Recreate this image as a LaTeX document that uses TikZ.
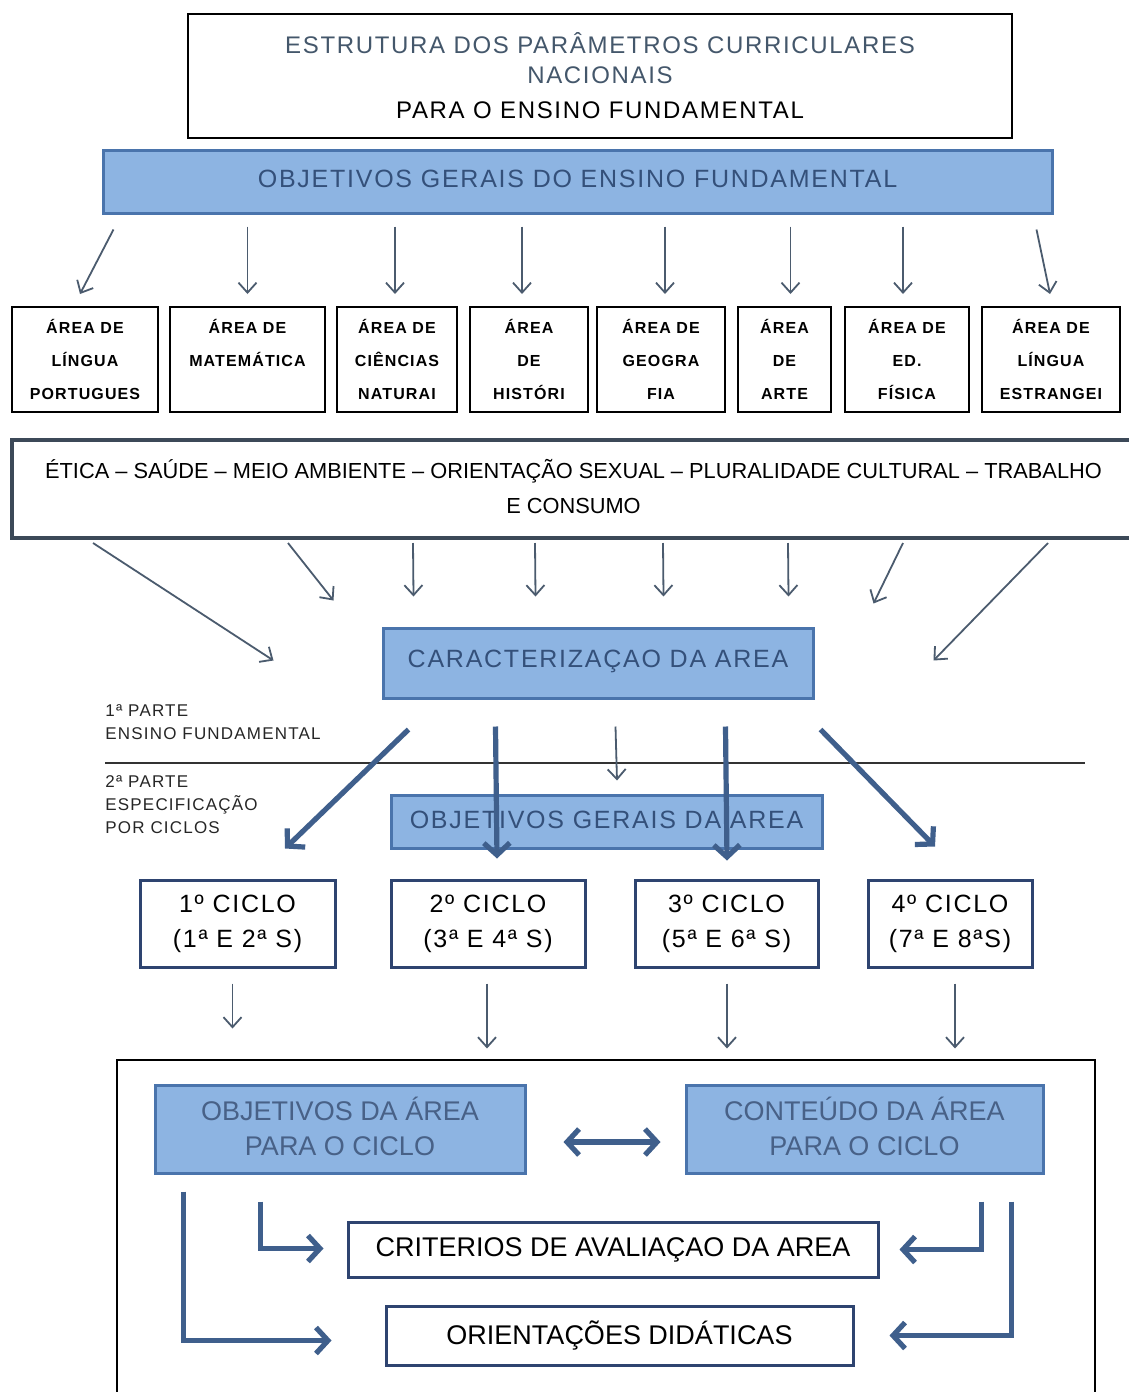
\documentclass[tikz,border=0pt]{standalone}
\usepackage{fontspec}
\setmainfont{Liberation Sans}
\newfontfamily\largo[LetterSpace=7]{Liberation Sans}
\usepackage{tikz}
\usetikzlibrary{arrows.meta,calc}

\definecolor{BoxBlue}{HTML}{8DB4E2}
\definecolor{EdgeBlue}{HTML}{4A74AC}
\definecolor{InkBlue}{HTML}{34507A}
\definecolor{TitleInk}{HTML}{44576B}
\definecolor{ArrowInk}{HTML}{4B5B6E}
\definecolor{BoldInk}{HTML}{3F5F8C}
\definecolor{Navy}{HTML}{2E4470}

\begin{document}
\begin{tikzpicture}[x=0.5pt, y=-0.5pt,
	bluebox/.style={draw=EdgeBlue, fill=BoxBlue, line width=1.5pt, text=InkBlue, align=center, inner sep=0pt},
	areabox/.style={draw=black, line width=1pt, fill=white, inner sep=0pt, minimum height=52.5pt},
	areatext/.style={anchor=north, align=center, inner sep=0pt, font={\largo\bfseries\fontsize{8}{16.5}\selectfont}},
	ciclobox/.style={draw=Navy, line width=1.5pt, fill=white, align=center, inner sep=0pt, minimum height=43.5pt, font={\largo\fontsize{12.5}{17.5}\selectfont}},
	whitebox/.style={draw=Navy, line width=1.5pt, fill=white, inner sep=0pt, font=\fontsize{13.5}{17.5}\selectfont},
	seta/.style={draw=ArrowInk, line width=0.9pt, -{Straight Barb[length=5pt,width=9pt]}},
	setaforte/.style={draw=BoldInk, line width=2.6pt, -{Straight Barb[length=6pt,width=13pt]}},
	]
	\fill[white] (0,0) rectangle (1129,1392);
	\useasboundingbox (0,0) rectangle (1129,1392);

	% top of the structure
	\node[draw=black, line width=1pt, minimum width=412pt, minimum height=62pt, align=center, inner sep=0pt,
		font={\largo\fontsize{12}{15}\selectfont}] (titulo) at (600,76)
		{{\color{TitleInk}ESTRUTURA DOS PARÂMETROS CURRICULARES}\\{\color{TitleInk}NACIONAIS}\\[2.5pt]{\color{black}PARA O ENSINO FUNDAMENTAL}};
	\node[bluebox, minimum width=474.5pt, minimum height=31.5pt, font={\largo\fontsize{12.5}{15}\selectfont}] (objgerais) at (577.5,181.5)
		{\raisebox{3pt}{OBJETIVOS GERAIS DO ENSINO FUNDAMENTAL}};

	% areas
	\foreach \i/\cx/\w/\txt in {1/85/146/{ÁREA DE\\LÍNGUA\\PORTUGUES}, 2/247.5/155/{ÁREA DE\\MATEMÁTICA}, 3/397/120/{ÁREA DE\\CIÊNCIAS\\NATURAI},
		4/529/118/{ÁREA\\DE\\HISTÓRI}, 5/661/128/{ÁREA DE\\GEOGRA\\FIA}, 6/784.5/93/{ÁREA\\DE\\ARTE},
		7/907/124/{ÁREA DE\\ED.\\FÍSICA}, 8/1051/138/{ÁREA DE\\LÍNGUA\\ESTRANGEI}} {
		\node[areabox, minimum width=\w*0.5pt] (area\i) at (\cx,359.5) {};
		\node[areatext] (areatxt\i) at ($(area\i.north)+(0,13)$) {\txt};
	}
	\draw[seta] ($(objgerais.south west)+(12,15)$) -- ($(area1.north)+(-5,-12)$);
	\foreach \i/\dx in {2/0,3/-2,4/-7,5/4,6/6,7/-4}
		\draw[seta] ($(objgerais.south -| area\i.north)+(\dx,12)$) -- ($(area\i.north)+(\dx,-12)$);
	\draw[seta] ($(objgerais.south east)+(-17,15)$) -- ($(area8.north)+(-1,-12)$);

	% cross themes
	\node[draw=ArrowInk!80!black, line width=2pt, fill=white, minimum width=561.5pt, minimum height=49pt, align=center, inner sep=0pt,
		font=\fontsize{10.9}{17.5}\selectfont] (etica) at (573.5,489)
		{\raisebox{3pt}{ÉTICA – SAÚDE – MEIO AMBIENTE – ORIENTAÇÃO SEXUAL – PLURALIDADE CULTURAL – TRABALHO}\\\raisebox{3pt}{E CONSUMO}};

	\node[bluebox, minimum width=215pt, minimum height=35pt, font={\largo\fontsize{12.5}{15}\selectfont}] (caract) at (598,663)
		{\raisebox{4pt}{CARACTERIZAÇAO DA AREA}};

	\foreach \sx/\ex/\ey in {83/-108/34, 278/-48/-26, 403/32/-30, 525/154/-30, 653/282/-30, 778/407/-30, 893/492/-23, 1038/552/34}
		\draw[seta] ($(etica.south west)+(\sx,3)$) -- ($(caract.north west)+(\ex,\ey)$);

	% parts
	\node[anchor=north west, align=left, inner sep=0pt, text=black!85, font={\largo\fontsize{8.5}{11.5}\selectfont}] (parte1) at (105,704)
		{1ª PARTE\\ENSINO FUNDAMENTAL};
	\node[anchor=north west, align=left, inner sep=0pt, text=black!85, font={\largo\fontsize{8.5}{11.5}\selectfont}] (parte2) at (105,775)
		{2ª PARTE\\ESPECIFICAÇÃO\\POR CICLOS};
	\draw[black!80, line width=1pt] (105,763) -- (1085,763);

	\node[bluebox, minimum width=215.5pt, minimum height=26.5pt, font={\largo\fontsize{12.5}{15}\selectfont}] (objarea) at (606.5,821.5)
		{\raisebox{1.5pt}{OBJETIVOS GERAIS DA AREA}};

	% cycles
	\node[ciclobox, minimum width=97.5pt] (ciclo1) at (237.5,923.5) {1º CICLO\\(1ª E 2ª S)};
	\node[ciclobox, minimum width=97pt] (ciclo2) at (488,923.5) {2º CICLO\\(3ª E 4ª S)};
	\node[ciclobox, minimum width=91.5pt] (ciclo3) at (726.5,923.5) {3º CICLO\\(5ª E 6ª S)};
	\node[ciclobox, minimum width=82pt] (ciclo4) at (950,923.5) {4º CICLO\\(7ª E 8ªS)};

	\draw[setaforte] ($(caract.south west)+(27,30)$) -- ($(ciclo1.north)+(47.5,-30)$);
	\draw[setaforte] ($(caract.south west)+(114,27)$) -- ($(ciclo2.north)+(9,-20)$);
	\draw[seta] ($(caract.south west)+(234,27)$) -- ($(objarea.north)+(10.5,-13)$);
	\draw[setaforte] ($(caract.south west)+(344,27)$) -- ($(ciclo3.north)+(0.5,-18)$);
	\draw[setaforte] ($(caract.south west)+(439,30)$) -- ($(ciclo4.north)+(-15,-32)$);

	\foreach \i/\dx/\len in {1/-5/45, 2/-1/65, 3/0.5/65, 4/5/65}
		\draw[seta] ($(ciclo\i.south)+(\dx,15)$) -- ++(0,\len);

	% what each cycle holds
	\node[draw=black, line width=1pt, minimum width=489pt, minimum height=170pt, inner sep=0pt] (quadro) at (606,1230) {};
	\node[bluebox, minimum width=185pt, minimum height=44pt, text=InkBlue!90, font=\fontsize{13.5}{17.5}\selectfont] (objciclo) at (340,1129)
		{\raisebox{3pt}{OBJETIVOS DA ÁREA}\\\raisebox{3pt}{PARA O CICLO}};
	\node[bluebox, minimum width=178.5pt, minimum height=44pt, text=InkBlue!90, font=\fontsize{13.5}{17.5}\selectfont] (conteudo) at (864.5,1129)
		{\raisebox{3pt}{CONTEÚDO DA ÁREA}\\\raisebox{3pt}{PARA O CICLO}};
	\node[whitebox, minimum width=265pt, minimum height=27.5pt] (criterios) at (613,1249.5) {CRITERIOS DE AVALIAÇAO DA AREA};
	\node[whitebox, minimum width=233.5pt, minimum height=29.5pt] (orientacoes) at (619.5,1335.5) {ORIENTAÇÕES DIDÁTICAS};

	\draw[setaforte, {Straight Barb[length=6pt,width=13pt]}-{Straight Barb[length=6pt,width=13pt]}]
		($(objciclo.east)+(37,13)$) -- ($(conteudo.west)+(-24,13)$);
	\draw[setaforte] ($(objciclo.south west)+(107,27)$) |- ($(criterios.west)+(-23,-1)$);
	\draw[setaforte] ($(objciclo.south west)+(30,17)$) |- ($(orientacoes.west)+(-53,5)$);
	\draw[setaforte] ($(conteudo.south east)+(-63,27)$) |- ($(criterios.east)+(20,0)$);
	\draw[setaforte] ($(conteudo.south east)+(-33,27)$) |- ($(orientacoes.east)+(35,0)$);
\end{tikzpicture}
\end{document}
